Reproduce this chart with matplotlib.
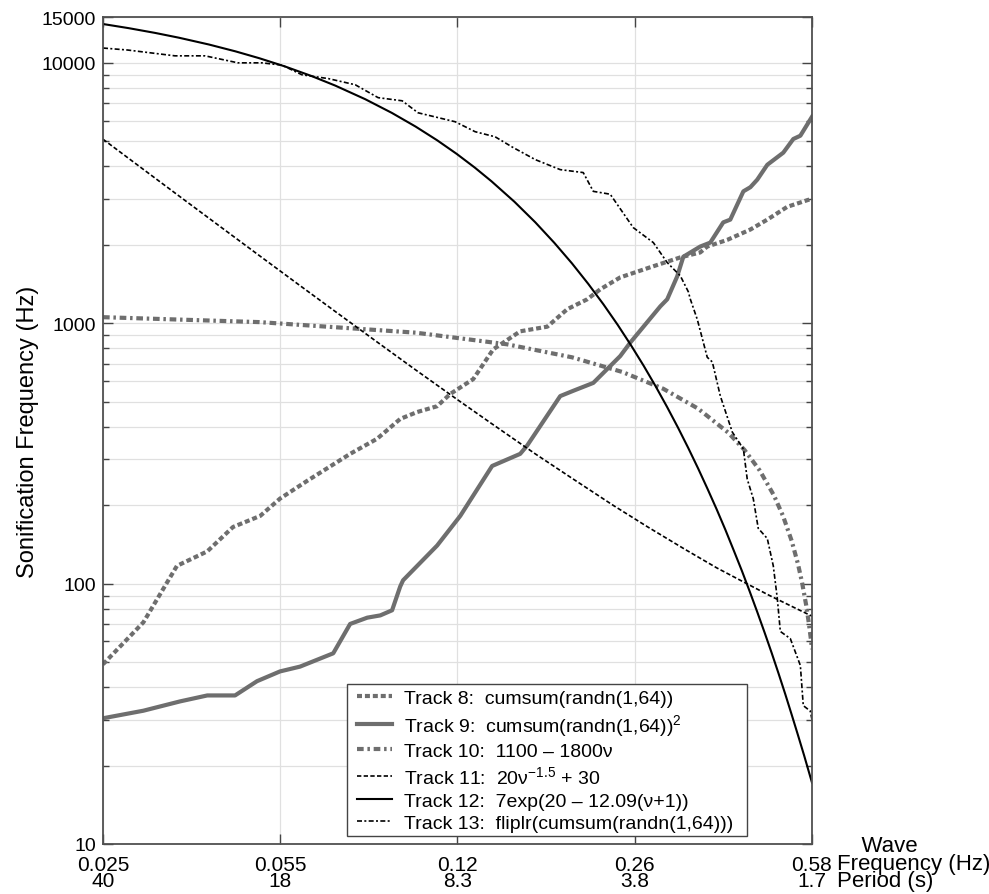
import matplotlib.pyplot as plt
from matplotlib.patches import Rectangle
from matplotlib.ticker import LogLocator, NullLocator, NullFormatter, FixedLocator, FixedFormatter
from matplotlib.transforms import blended_transform_factory

plt.rcParams['font.family'] = ['Liberation Sans', 'DejaVu Sans']
plt.rcParams['mathtext.fontset'] = 'custom'
plt.rcParams['mathtext.rm'] = 'Liberation Sans'
plt.rcParams['mathtext.it'] = 'Liberation Sans:italic'

# Track 10: 1100 - 1800v
nu10 = [0.025, 0.05, 0.1, 0.15, 0.2, 0.25, 0.3, 0.35, 0.4, 0.43, 0.46, 0.49, 0.51,
        0.53, 0.545, 0.555, 0.565, 0.572, 0.577, 0.58]
t10 = [1055, 1010, 920, 830, 740, 650, 560, 470, 380, 326, 272, 218, 182, 146, 119,
       101, 83, 70.4, 61.4, 56]

# Track 11: 20v^-1.5 + 30
nu11 = [0.025, 0.03, 0.035, 0.042, 0.05, 0.06, 0.07, 0.085, 0.1, 0.12, 0.14, 0.17,
        0.2, 0.24, 0.28, 0.33, 0.38, 0.43, 0.48, 0.53, 0.58]
t11 = [5090, 3879, 3084, 2354, 1819, 1391, 1110, 837, 662, 511, 412, 315, 254, 200,
       165, 135.5, 115, 101, 90.1, 81.8, 75]

# Track 12: 7exp(20 - 12.09(v+1))
nu12 = [0.025, 0.028, 0.0315, 0.035, 0.04, 0.045, 0.05, 0.056, 0.063, 0.07, 0.08,
        0.09, 0.1, 0.11, 0.12, 0.13, 0.14, 0.155, 0.17, 0.185, 0.2, 0.215, 0.23,
        0.245, 0.26, 0.275, 0.29, 0.305, 0.32, 0.335, 0.35, 0.365, 0.38, 0.395, 0.41,
        0.425, 0.44, 0.455, 0.47, 0.485, 0.5, 0.515, 0.53, 0.545, 0.56, 0.58]
t12 = [14097, 13594, 13031, 12491, 11759, 11068, 10418, 9690, 8904, 8181, 7249, 6424,
       5692, 5044, 4470, 3961, 3509, 2928, 2442, 2036, 1699, 1417, 1182, 986, 822, 686,
       572, 477, 398, 332, 277, 231, 193, 161, 134, 112, 93.3, 77.8, 64.9, 54.2, 45.2,
       37.7, 31.4, 26.2, 21.9, 17.2]

# random-walk tracks
x8 = [0.025, 0.0299, 0.0347, 0.0397, 0.0445, 0.0502, 0.0548, 0.0618, 0.0748, 0.0843,
      0.0934, 0.1007, 0.110, 0.1166, 0.1291, 0.1411, 0.159, 0.1793, 0.1959, 0.2141,
      0.2268, 0.2478, 0.283, 0.3235, 0.3533, 0.3645, 0.3983, 0.4413, 0.4757, 0.5198, 0.58]
y8 = [49, 71, 117, 133, 165, 182, 212, 248, 315, 360, 429, 456, 480, 535, 610, 794,
      931, 970, 1132, 1236, 1350, 1500, 1640, 1790, 1870, 1970, 2090, 2290, 2500, 2800, 3010]

x9 = [0.025, 0.0299, 0.0352, 0.0397, 0.0449, 0.0495, 0.0548, 0.0599, 0.0694, 0.0748,
      0.0807, 0.0855, 0.0901, 0.0934, 0.0946, 0.110, 0.1219, 0.1404, 0.159, 0.164,
      0.1899, 0.2011, 0.2199, 0.2478, 0.259, 0.296, 0.3052, 0.319, 0.3278, 0.3533,
      0.3694, 0.3913, 0.4037, 0.4278, 0.4413, 0.455, 0.4757, 0.5107, 0.5339, 0.5508, 0.58]
y9 = [30.4, 32.5, 35.3, 37.2, 37.2, 42.2, 46, 48, 54, 70, 74, 75.5, 79, 97.5, 103,
      140, 182, 283, 315, 339, 525, 550, 590, 748, 842, 1161, 1236, 1513, 1800, 1970,
      2040, 2440, 2500, 3210, 3330, 3560, 4060, 4520, 5100, 5250, 6210]

x13 = [0.025, 0.0279, 0.0344, 0.0393, 0.0455, 0.0506, 0.0553, 0.0604, 0.0679, 0.0765,
       0.0847, 0.0942, 0.1011, 0.1192, 0.1302, 0.1423, 0.1535, 0.17, 0.1899, 0.2103,
       0.2199, 0.237, 0.2625, 0.287, 0.3052, 0.3235, 0.3352, 0.338, 0.3487, 0.3645,
       0.3728, 0.3863, 0.4073, 0.4278, 0.4352, 0.447, 0.457, 0.4757, 0.4885, 0.4972,
       0.504, 0.5268, 0.5508, 0.558, 0.5756, 0.58]
y13 = [11400, 11200, 10640, 10640, 10000, 10000, 9800, 9000, 8700, 8240, 7350, 7150,
       6430, 5940, 5440, 5200, 4750, 4250, 3890, 3790, 3210, 3130, 2330, 2040, 1710,
       1520, 1320, 1240, 1035, 740, 710, 525, 382, 329, 252, 212, 163, 149, 117, 88,
       65.5, 61.5, 48.5, 34, 32.4, 30]

labels = ['Track 8:  cumsum(randn(1,64))',
          'Track 9:  cumsum(randn(1,64))$^2$',
          'Track 10:  1100 \u2013 1800\u03bd',
          'Track 11:  20\u03bd$^{-1.5}$ + 30',
          'Track 12:  7exp(20 \u2013 12.09(\u03bd+1))',
          'Track 13:  fliplr(cumsum(randn(1,64)))']

tick_freqs = [0.025, 0.0549, 0.1204, 0.2643, 0.58]
freq_labels = ['0.025', '0.055', '0.12', '0.26', '0.58']
period_labels = ['40', '18', '8.3', '3.8', '1.7']
ytick_vals = [10, 100, 1000, 10000, 15000]

gray = '#6e6e6e'

fig = plt.figure(figsize=(9.89, 8.95), dpi=100)
ax = fig.add_axes([103 / 989, 50 / 895, 709 / 989, 827 / 895])

ax.plot(x8, y8, color=gray, lw=3, ls=(0, (1.2, 0.7)), label=labels[0])
ax.plot(x9, y9, color=gray, lw=3, label=labels[1])
ax.plot(nu10, t10, color=gray, lw=3, ls=(0, (1.6, 0.9, 0.6, 0.9)), label=labels[2])
ax.plot(nu11, t11, color='black', lw=1.2, ls=(0, (2.6, 1.4)), label=labels[3])
ax.plot(nu12, t12, color='black', lw=1.5, label=labels[4])
ax.plot(x13, y13, color='black', lw=1.2, ls=(0, (3, 1.4, 1.2, 1.4)), label=labels[5])

ax.set_xscale('log')
ax.set_yscale('log')
ax.set_xlim(0.025, 0.58)
ax.set_ylim(10, 15000)

ax.xaxis.set_major_locator(FixedLocator(tick_freqs))
ax.xaxis.set_minor_locator(NullLocator())
ax.xaxis.set_major_formatter(NullFormatter())
ax.yaxis.set_major_locator(FixedLocator(ytick_vals))
ax.yaxis.set_major_formatter(FixedFormatter([str(v) for v in ytick_vals]))
ax.yaxis.set_minor_locator(LogLocator(base=10, subs=range(2, 10)))
ax.yaxis.set_minor_formatter(NullFormatter())

ax.grid(True, which='major', axis='x', color='#e0e0e0', lw=0.9)
ax.grid(True, which='both', axis='y', color='#e0e0e0', lw=0.9)
ax.set_axisbelow(True)

ax.tick_params(which='both', direction='in', top=True, right=True, color='#444444')
ax.tick_params(which='major', length=7, width=1)
ax.tick_params(which='minor', length=4, width=1)
ax.tick_params(axis='y', labelsize=14, pad=5)
for s in ax.spines.values():
    s.set_color('#505050')
    s.set_linewidth(1.3)

ax.set_ylabel('Sonification Frequency (Hz)', fontsize=17, labelpad=2)

# two-row x labels: frequency above, period below (one text per tick)
tr = blended_transform_factory(ax.transData, ax.transAxes)
for f, fl, pl in zip(tick_freqs, freq_labels, period_labels):
    ax.text(f, -(856 - 845) / 827, fl + '\n' + pl, transform=tr, ha='center', va='top',
            fontsize=15, linespacing=0.83)
fig.text(837 / 989, 1 - 836.5 / 895, '    Wave\nFrequency (Hz)\nPeriod (s)',
         ha='left', va='top', fontsize=16, linespacing=0.76)

# legend without its own frame, boxed by hand so the side margins can be wider
leg = ax.legend(loc='lower right', bbox_to_anchor=((733 - 103) / 709, (845 - 833) / 827),
                borderaxespad=0, borderpad=0, fontsize=14, handlelength=1.8,
                handletextpad=0.6, labelspacing=0.25, frameon=False)
leg.set_zorder(6)
fig.canvas.draw()
bb = leg.get_window_extent().transformed(ax.transAxes.inverted())
px_w, px_h = 1 / 709, 1 / 827
ax.add_patch(Rectangle((bb.x0 - 10 * px_w, bb.y0 - 4 * px_h),
                       bb.width + 24 * px_w, bb.height + 9 * px_h,
                       transform=ax.transAxes, facecolor='white', edgecolor='#444444',
                       lw=1, zorder=5.5))

fig.savefig('out.png', dpi=100)
